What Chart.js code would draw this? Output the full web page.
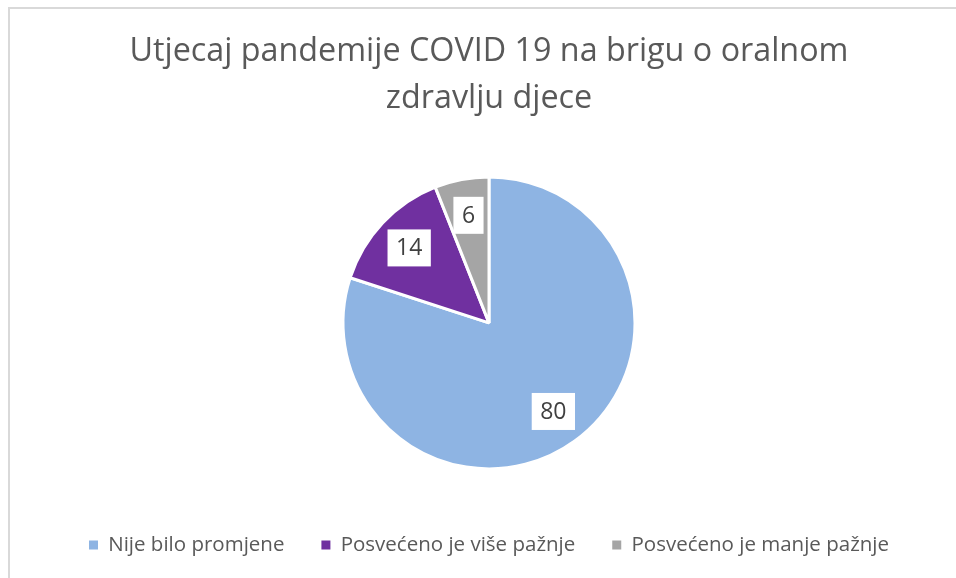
<!DOCTYPE html>
<html>
<head>
<meta charset="utf-8">
<script src="https://cdn.jsdelivr.net/npm/chart.js@4"></script>
<style>
  html, body { margin: 0; padding: 0; background: #fff; }
  #wrap { position: relative; width: 956px; height: 578px; overflow: hidden; }
  #frame { position: absolute; left: 8px; top: 7px; width: 1000px; height: 1000px;
           border-left: 2px solid #d9d9d9; border-top: 2px solid #d9d9d9; }
  #chart { position: absolute; left: 0; top: 0; }
</style>
</head>
<body>
<div id="wrap">
  <div id="frame"></div>
  <canvas id="chart" width="956" height="578"></canvas>
</div>
<script>
// podaci
const titleLines = ['Utjecaj pandemije COVID 19 na brigu o oralnom', 'zdravlju djece'];
const categories = ['Nije bilo promjene', 'Posvećeno je više pažnje', 'Posvećeno je manje pažnje'];
const values = [80, 14, 6];
const sliceColors = ['#8eb4e3', '#7030a0', '#a5a5a5'];

const fontFamily = '"Open Sans", "Noto Sans", sans-serif';

// oznake vrijednosti u bijelim okvirima
const boxLabels = {
    id: 'boxLabels',
    afterDatasetsDraw(chart) {
        const ctx = chart.ctx;
        const meta = chart.getDatasetMeta(0);
        ctx.save();
        ctx.font = '23px ' + fontFamily;
        ctx.textAlign = 'center';
        ctx.textBaseline = 'middle';
        meta.data.forEach((arc, i) => {
            const p = arc.getProps(['x', 'y', 'startAngle', 'endAngle', 'outerRadius'], true);
            const mid = (p.startAngle + p.endAngle) / 2;
            const r = p.outerRadius * 0.75;
            const x = p.x + Math.cos(mid) * r;
            const y = p.y + Math.sin(mid) * r;
            const text = String(chart.data.datasets[0].data[i]);
            const w = ctx.measureText(text).width + 17;
            const h = 37;
            ctx.fillStyle = '#ffffff';
            ctx.fillRect(x - w / 2, y - h / 2, w, h);
            ctx.fillStyle = '#404040';
            ctx.fillText(text, x, y + 1);
        });
        ctx.restore();
    }
};

new Chart(document.getElementById('chart'), {
    type: 'pie',
    data: {
        labels: categories,
        datasets: [{
            data: values,
            backgroundColor: sliceColors,
            borderColor: '#ffffff',
            borderWidth: 3
        }]
    },
    options: {
        responsive: false,
        animation: false,
        radius: 146,
        layout: { padding: { left: 22, right: 0, top: 0, bottom: 12.75 } },
        plugins: {
            title: {
                display: true,
                text: titleLines,
                color: '#595959',
                font: { family: fontFamily, size: 32.3, weight: 'normal', lineHeight: '47px' },
                padding: { top: 28, bottom: 26 }
            },
            legend: {
                position: 'bottom',
                labels: {
                    color: '#595959',
                    font: { family: fontFamily, size: 20.5 },
                    boxWidth: 9,
                    boxHeight: 9,
                    padding: 37,
                    generateLabels(chart) {
                        // kvadratići bez bijelog ruba
                        const items = Chart.overrides.pie.plugins.legend.labels.generateLabels(chart);
                        items.forEach(item => { item.lineWidth = 0; });
                        return items;
                    }
                }
            },
            tooltip: { enabled: false }
        }
    },
    plugins: [boxLabels]
});
</script>
</body>
</html>
